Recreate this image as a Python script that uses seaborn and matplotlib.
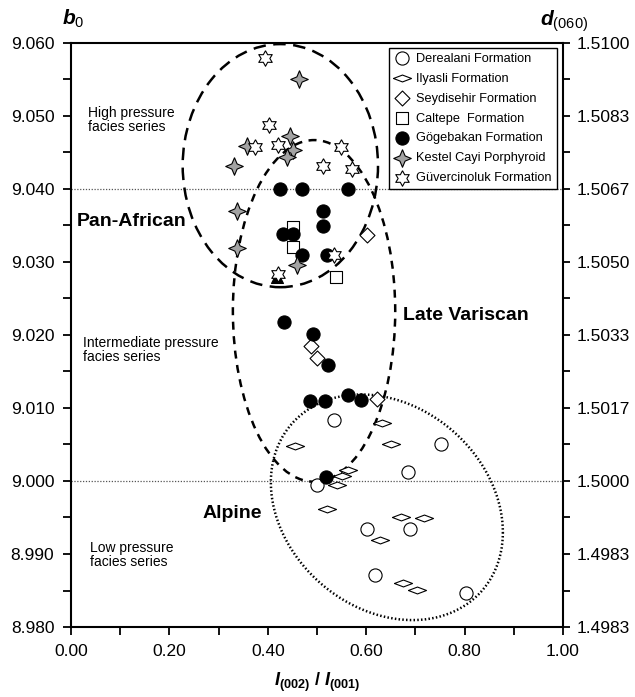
import numpy as np
import pandas as pd
import matplotlib
matplotlib.use("Agg")
import matplotlib.pyplot as plt
import seaborn as sns
from matplotlib.patches import Ellipse
from matplotlib.ticker import MultipleLocator, FixedLocator

# ---------------- data ----------------
derealani_x = [0.535, 0.501, 0.684, 0.753, 0.602, 0.690, 0.617, 0.803]
derealani_y = [9.0084, 8.9995, 9.0012, 9.0051, 8.9934, 8.9934, 8.9871, 8.9847]

ilyasli_x = [0.633, 0.455, 0.650, 0.564, 0.550, 0.541, 0.520, 0.670, 0.718, 0.628, 0.675, 0.703]
ilyasli_y = [9.0080, 9.0048, 9.0051, 9.0015, 9.0007, 8.9994, 8.9962, 8.9950, 8.9949, 8.9919, 8.9860, 8.9851]

seydisehir_x = [0.601, 0.488, 0.501, 0.621]
seydisehir_y = [9.0337, 9.0185, 9.0169, 9.0112]

caltepe_x = [0.451, 0.451, 0.539]
caltepe_y = [9.0348, 9.0321, 9.0280]

gogebakan_x = [0.425, 0.469, 0.562, 0.513, 0.513, 0.430, 0.452, 0.470, 0.520,
               0.432, 0.491, 0.523, 0.486, 0.516, 0.564, 0.589, 0.518]
gogebakan_y = [9.0400, 9.0400, 9.0400, 9.0370, 9.0349, 9.0339, 9.0339, 9.0310, 9.0310,
               9.0218, 9.0201, 9.0159, 9.0110, 9.0110, 9.0118, 9.0111, 9.0006]

kestel_x = [0.464, 0.357, 0.445, 0.451, 0.440, 0.332, 0.338, 0.338, 0.460]
kestel_y = [9.0551, 9.0459, 9.0472, 9.0453, 9.0444, 9.0432, 9.0370, 9.0319, 9.0296]

guvercin_x = [0.394, 0.403, 0.374, 0.421, 0.548, 0.513, 0.572, 0.535, 0.421]
guvercin_y = [9.0579, 9.0488, 9.0458, 9.0460, 9.0458, 9.0431, 9.0428, 9.0310, 9.0284]

triangle_x = [0.418]
triangle_y = [9.0279]

y_ticks = [8.980, 8.990, 9.000, 9.010, 9.020, 9.030, 9.040, 9.050, 9.060]
d060_labels = ["1.4983", "1.4983", "1.5000", "1.5017", "1.5033", "1.5050", "1.5067", "1.5083", "1.5100"]
x_ticks = [0.0, 0.2, 0.4, 0.6, 0.8, 1.0]

# ---------------- style ----------------
sns.set_theme(style="ticks")
plt.rcParams["font.family"] = ["Liberation Sans", "DejaVu Sans"]
plt.rcParams["text.color"] = "black"
plt.rcParams["axes.labelcolor"] = "black"
plt.rcParams["mathtext.fontset"] = "custom"
plt.rcParams["mathtext.rm"] = "Liberation Sans"
plt.rcParams["mathtext.it"] = "Liberation Sans:italic"
plt.rcParams["mathtext.bf"] = "Liberation Sans:bold"
plt.rcParams["mathtext.bfit"] = "Liberation Sans:italic:bold"

fig = plt.figure(figsize=(6.35, 6.97), dpi=100)
ax = fig.add_axes([0.11181, 0.10043, 0.77480, 0.83788])

# custom markers
flat_diamond = [(-1, 0), (0, 0.38), (1, 0), (0, -0.38), (-1, 0)]
four_star = []
for k in range(8):
    ang = np.pi / 2 + k * np.pi / 4
    r = 1.0 if k % 2 == 0 else 0.42
    four_star.append((r * np.cos(ang), r * np.sin(ang)))
four_star.append(four_star[0])
six_star = []
for k in range(12):
    ang = np.pi / 2 + k * np.pi / 6
    r = 1.0 if k % 2 == 0 else 0.56
    six_star.append((r * np.cos(ang), r * np.sin(ang)))
six_star.append(six_star[0])

series = [
    ("Derealani Formation", derealani_x, derealani_y, "o", "white", 90),
    ("Ilyasli Formation", ilyasli_x, ilyasli_y, flat_diamond, "white", 170),
    ("Seydisehir Formation", seydisehir_x, seydisehir_y, "D", "white", 58),
    ("Caltepe  Formation", caltepe_x, caltepe_y, "s", "white", 74),
    ("Gögebakan Formation", gogebakan_x, gogebakan_y, "o", "black", 90),
    ("Kestel Cayi Porphyroid", kestel_x, kestel_y, four_star, "#a3a3a3", 160),
    ("Güvercinoluk Formation", guvercin_x, guvercin_y, six_star, "white", 125),
]

# triangle (not in legend)
sns.scatterplot(x=triangle_x, y=triangle_y, marker="^", s=74, color="black",
                edgecolor="black", linewidth=0.8, ax=ax, zorder=3, legend=False)

for i, (lab, xs, ys, mk, fc, s) in enumerate(series):
    df = pd.DataFrame({"x": xs, "y": ys})
    sns.scatterplot(data=df, x="x", y="y", marker=mk, s=s, color=fc,
                    edgecolor="black", linewidth=0.8, ax=ax, label=lab, zorder=3 + i)

# ellipses
pan = Ellipse((0.4255, 9.0432), 0.397, 0.0333, fill=False, edgecolor="black",
              linewidth=1.8, linestyle=(0, (5, 3)), zorder=2)
ax.add_patch(pan)
var = Ellipse((0.494, 9.0233), 0.330, 0.0468, fill=False, edgecolor="black",
              linewidth=1.8, linestyle=(0, (3.2, 2.6)), zorder=2)
ax.add_patch(var)
t = np.linspace(0, 2 * np.pi, 400)
alp_c = (0.642, 8.9964)
alp_u = (0.2358, -0.00342)
alp_v = (0.0, -0.01507)
ax.plot(alp_c[0] + alp_u[0] * np.cos(t) + alp_v[0] * np.sin(t),
        alp_c[1] + alp_u[1] * np.cos(t) + alp_v[1] * np.sin(t),
        color="black", linewidth=1.8, linestyle=(0, (0.6, 0.9)), zorder=2)

# horizontal reference lines
for yy in (9.040, 9.000):
    ax.axhline(yy, color="#555555", linewidth=0.9, linestyle=(0, (1, 1.3)), zorder=1)

# axes
ax.set_xlim(0, 1)
ax.set_ylim(8.98, 9.06)
ax.xaxis.set_major_locator(FixedLocator(x_ticks))
ax.xaxis.set_minor_locator(MultipleLocator(0.1))
ax.yaxis.set_major_locator(FixedLocator(y_ticks))
ax.yaxis.set_minor_locator(MultipleLocator(0.005))
ax.set_xticklabels([f"{v:.2f}" for v in x_ticks])
ax.set_yticklabels([f"{v:.3f}" for v in y_ticks])
ax.tick_params(axis="both", which="both", direction="out", length=6, width=1.3,
               labelsize=12.5, pad=6, colors="black", top=False, right=False)
for sp in ax.spines.values():
    sp.set_linewidth(1.5)
    sp.set_color("black")
    sp.set_visible(True)
ax.set_xlabel(r"$\mathbfit{I}_{\mathbf{(002)}}\ \mathbf{/}\ \mathbfit{I}_{\mathbf{(001)}}$",
              fontsize=13, labelpad=9, color="black")
ax.set_ylabel("")

ax2 = ax.twinx()
ax2.set_ylim(8.98, 9.06)
ax2.yaxis.set_major_locator(FixedLocator(y_ticks))
ax2.yaxis.set_minor_locator(MultipleLocator(0.005))
ax2.set_yticklabels(d060_labels)
ax2.tick_params(axis="y", which="both", direction="out", length=5, width=1.3,
                labelsize=12.5, pad=5, colors="black")
for sp in ax2.spines.values():
    sp.set_visible(False)

# axis titles
fig.text(62 / 635, 1 - 19 / 697, r"$\mathbfit{b}_0$", fontsize=15, ha="left", va="center", color="black")
fig.text(540 / 635, 1 - 21 / 697, r"$\mathbfit{d}_{(060)}$", fontsize=15, ha="left", va="center", color="black")

# annotations
kw = dict(ha="left", va="center", color="black")
ax.text(0.035, 9.0495, "High pressure\nfacies series", fontsize=10, linespacing=1.0, **kw)
ax.text(0.012, 9.0355, "Pan-African", fontsize=14, fontweight="bold", **kw)
ax.text(0.024, 9.0179, "Intermediate pressure\nfacies series", fontsize=10, linespacing=1.0, **kw)
ax.text(0.0386, 8.9899, "Low pressure\nfacies series", fontsize=10, linespacing=1.0, **kw)
ax.text(0.268, 8.9956, "Alpine", fontsize=14, fontweight="bold", **kw)
ax.text(0.675, 9.0227, "Late Variscan", fontsize=14, fontweight="bold", **kw)

leg = ax.legend(loc="upper right", bbox_to_anchor=(0.988, 0.992), borderaxespad=0,
                fontsize=9.2, frameon=True, fancybox=False, edgecolor="black",
                framealpha=1, handlelength=1.2, handletextpad=0.55, labelspacing=0.62,
                borderpad=0.4, markerscale=1.0)
leg.get_frame().set_linewidth(1.0)
for txt in leg.get_texts():
    txt.set_color("black")

fig.savefig("out.png", dpi=100)
